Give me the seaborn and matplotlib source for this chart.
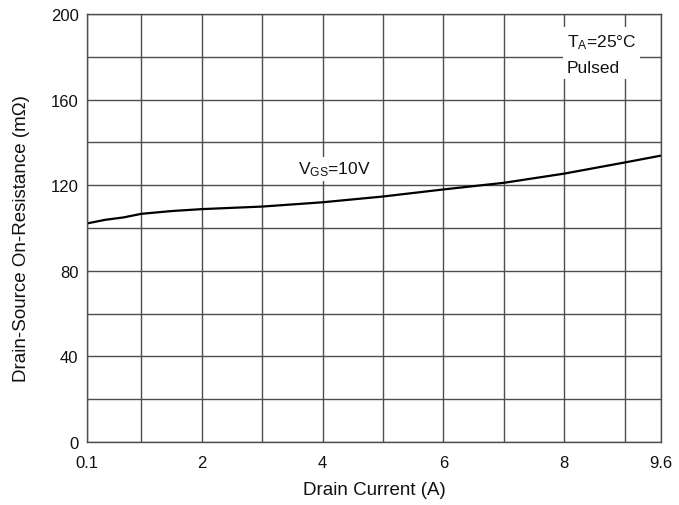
import numpy as np
import pandas as pd
import matplotlib
matplotlib.use("Agg")
import matplotlib.pyplot as plt
import seaborn as sns

# values
drain_current = [0.1, 0.4, 0.7, 1.0, 1.5, 2.0, 3.0, 4.0, 5.0, 6.0, 7.0, 8.0, 9.0, 9.6]
on_resistance = [102.1, 103.8, 104.9, 106.6, 107.9, 108.8, 110.0, 112.0, 114.7, 118.0, 121.1, 125.4, 130.6, 133.8]

x_major = [0.1, 2, 4, 6, 8, 9.6]
x_minor = [1, 3, 5, 7, 9]
y_major = [0, 40, 80, 120, 160, 200]
y_minor = [20, 60, 100, 140, 180]

sns.set_style("white")
plt.rcParams['font.family'] = ['Liberation Sans', 'DejaVu Sans']
plt.rcParams['mathtext.fontset'] = 'custom'
plt.rcParams['mathtext.rm'] = 'Liberation Sans'
plt.rcParams['mathtext.it'] = 'Liberation Sans:italic'

df = pd.DataFrame({"Id": drain_current, "Rds": on_resistance})

fig = plt.figure(figsize=(6.79, 5.06), dpi=100)
ax = fig.add_axes([0.128, 0.1245, 0.8455, 0.846])

sns.lineplot(data=df, x="Id", y="Rds", ax=ax, color="black", linewidth=1.6)

ax.set_xlim(0.1, 9.6)
ax.set_ylim(0, 200)
ax.set_xticks(x_major)
ax.set_xticklabels(["0.1", "2", "4", "6", "8", "9.6"])
ax.set_xticks(x_minor, minor=True)
ax.set_yticks(y_major)
ax.set_yticks(y_minor, minor=True)
ax.tick_params(which='both', length=0, labelsize=12, colors='#111111')
ax.tick_params(axis='x', pad=9)
ax.tick_params(axis='y', pad=6)
ax.grid(which='both', color='#4d4d4d', linewidth=1.0)
for s in ax.spines.values():
    s.set_color('#4d4d4d')
    s.set_linewidth(1.0)

ax.set_xlabel("Drain Current (A)", fontsize=13.5, labelpad=8, color='#111111')
ax.set_ylabel("Drain-Source On-Resistance (m\u03a9)", fontsize=13.5, color='#111111')
ax.yaxis.set_label_coords(-0.1, 0.478)

ax.text(4.2, 127.5, r"$\mathregular{V_{GS}}$=10V", fontsize=12.5, ha='center', va='center',
        color='#111111', bbox=dict(facecolor='white', edgecolor='none', pad=2))
ax.text(8.04, 181.5, "$\\mathregular{T_A}$=25\u00b0C\nPulsed", fontsize=12.5, ha='left', va='center',
        color='#111111', linespacing=1.7, bbox=dict(facecolor='white', edgecolor='none', pad=3))

fig.savefig("out.png", dpi=100)
